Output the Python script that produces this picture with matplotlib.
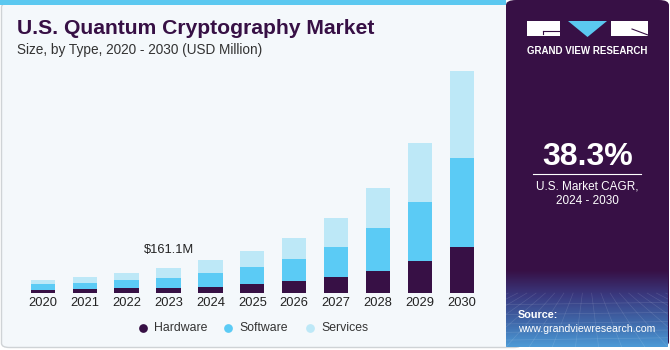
import matplotlib
matplotlib.use("Agg")
import matplotlib.pyplot as plt
import numpy as np
from matplotlib.patches import FancyBboxPatch, Rectangle, Polygon
from matplotlib.colors import LinearSegmentedColormap

years = ["2020", "2021", "2022", "2023", "2024", "2025", "2026", "2027", "2028", "2029", "2030"]
hardware = [19, 25, 31, 35, 42, 58, 75, 101, 140, 203, 293]
software = [38, 42, 54, 63, 88, 109, 138, 192, 269, 373, 560]
services = [27, 36, 44, 63, 80, 97, 132, 179, 252, 367, 547]
series_names = ["Hardware", "Software", "Services"]
colors = ["#371045", "#5BCBF5", "#BDE8F7"]
annot_year = "2023"
annot_text = "$161.1M"
cagr = "38.3%"

W, H = 670, 350
fig = plt.figure(figsize=(6.7, 3.5), dpi=100)
fig.patch.set_facecolor("white")

def fx(px):
    return px / W

def fy(py):
    return 1 - py / H

# background card
bg = FancyBboxPatch((fx(1.5), fy(347.5)), fx(520), fy(3) - fy(347.5),
                    boxstyle="round,pad=0,rounding_size=0.012",
                    transform=fig.transFigure, facecolor="#F4F8FB",
                    edgecolor="#CFD3D6", linewidth=1.0, zorder=0)
fig.patches.append(bg)
# top stripe
fig.patches.append(Rectangle((0, fy(5)), fx(506), fy(0) - fy(5), transform=fig.transFigure,
                             facecolor="#5BC8F0", edgecolor="none", zorder=1))

# right panel
panel = FancyBboxPatch((fx(506), fy(347)), fx(670 - 506 - 1), fy(0) - fy(347),
                       boxstyle="round,pad=0,rounding_size=0.015",
                       transform=fig.transFigure, facecolor="#371045",
                       edgecolor="none", zorder=1)
fig.patches.append(panel)

# gradient at panel bottom
gax = fig.add_axes([fx(506), fy(347), fx(670 - 506 - 2), fy(270) - fy(347)], zorder=2)
gax.set_axis_off()
cmap = LinearSegmentedColormap.from_list("g", ["#371045", "#3A3A80", "#3F66A8", "#4C9AD6"])
grad = np.linspace(0, 1, 100).reshape(-1, 1)
gax.imshow(grad, aspect="auto", cmap=cmap, extent=[0, 1, 0, 1], origin="upper")
gax.set_xlim(0, 1)
gax.set_ylim(0, 1)
for k in np.linspace(-1.0, 2.0, 22):
    gax.plot([0.5 + (k - 0.5) * 0.4, k], [0.7, 0.0], color="white", alpha=0.12, lw=0.5)
for yy in [0.55, 0.42, 0.3, 0.19, 0.09]:
    gax.plot([0, 1], [yy, yy + 0.03], color="white", alpha=0.12, lw=0.5)

# main axes
ax = fig.add_axes([fx(20), fy(293.3), fx(465), fy(60) - fy(293.3)], zorder=3)
ax.set_facecolor("none")
x = np.arange(len(years))
bw = 0.58
bottom = np.zeros(len(years))
for vals, c in zip([hardware, software, services], colors):
    ax.bar(x, vals, bw, bottom=bottom, color=c, edgecolor="none", zorder=2)
    bottom += np.array(vals)
ax.set_xlim(-0.544, 10.554)
ax.set_ylim(0, 1467)
for s in ax.spines.values():
    s.set_visible(False)
ax.set_yticks([])
ax.set_xticks(x)
ax.set_xticklabels(years, fontsize=9.3, color="#222222", family="Liberation Sans")
ax.tick_params(axis="x", length=0, pad=3)

i = years.index(annot_year)
ax.annotate(annot_text, (x[i], bottom[i]), xytext=(0, 13), textcoords="offset points",
            ha="center", va="center", fontsize=9.3, color="#222222", family="Liberation Sans")

# title
fig.text(fx(17), fy(28), "U.S. Quantum Cryptography Market", fontsize=15.2, fontweight="bold",
         color="#371045", family="Liberation Sans", va="center", ha="left", zorder=5)
fig.text(fx(17), fy(50), "Size, by Type, 2020 - 2030 (USD Million)", fontsize=9.8,
         color="#333333", family="Liberation Sans", va="center", ha="left", zorder=5)

# legend
leg_pos = [(143, 154), (228, 239), (310, 321)]
for (cx, tx), name, c in zip(leg_pos, series_names, colors):
    fig.lines.append(plt.Line2D([fx(cx)], [fy(328.3)], transform=fig.transFigure, marker="o",
                                markersize=6.3, markerfacecolor=c, markeredgecolor="none",
                                linestyle="none", zorder=5))
    fig.text(fx(tx), fy(328.3), name, fontsize=8.8, color="#333333", family="Liberation Sans",
             va="center", ha="left", zorder=5)

# logo
fig.patches.append(Rectangle((fx(527), fy(36)), fx(33), fy(21) - fy(36), transform=fig.transFigure,
                             facecolor="white", edgecolor="none", zorder=4))
fig.patches.append(Rectangle((fx(611), fy(36)), fx(37), fy(21) - fy(36), transform=fig.transFigure,
                             facecolor="white", edgecolor="none", zorder=4))
fig.patches.append(Polygon([(fx(568), fy(21)), (fx(607), fy(21)), (fx(587.5), fy(37))],
                           transform=fig.transFigure, facecolor="#5BC8F0", edgecolor="none", zorder=4))
fig.lines.append(plt.Line2D([fx(543), fx(560)], [fy(31), fy(31)], transform=fig.transFigure,
                            color="#371045", lw=0.8, zorder=5))
fig.lines.append(plt.Line2D([fx(543), fx(543)], [fy(31), fy(34)], transform=fig.transFigure,
                            color="#371045", lw=0.8, zorder=5))
fig.lines.append(plt.Line2D([fx(632), fx(648)], [fy(29), fy(35)], transform=fig.transFigure,
                            color="#371045", lw=0.8, zorder=5))
fig.text(fx(587.5), fy(51.5), "GRAND VIEW RESEARCH", fontsize=7, fontweight="bold",
         color="white", family="Liberation Sans", ha="center", va="center", zorder=5)

# CAGR
fig.text(fx(587.5), fy(157), cagr, fontsize=23, fontweight="bold", color="white",
         family="Liberation Sans", ha="center", va="center", zorder=5)
fig.lines.append(plt.Line2D([fx(533), fx(641)], [fy(173.5), fy(173.5)], transform=fig.transFigure,
                            color="white", lw=0.8, zorder=5))
fig.text(fx(587.5), fy(186), "U.S. Market CAGR,", fontsize=8.5, color="white",
         family="Liberation Sans", ha="center", va="center", zorder=5)
fig.text(fx(587.5), fy(201), "2024 - 2030", fontsize=8.5, color="white",
         family="Liberation Sans", ha="center", va="center", zorder=5)

# source
fig.text(fx(518), fy(315), "Source:", fontsize=7.8, fontweight="bold", color="white",
         family="Liberation Sans", ha="left", va="center", zorder=5)
fig.text(fx(518), fy(329.5), "www.grandviewresearch.com", fontsize=7.6, color="white",
         family="Liberation Sans", ha="left", va="center", zorder=5)

fig.savefig("out.png", dpi=100, facecolor=fig.get_facecolor())
